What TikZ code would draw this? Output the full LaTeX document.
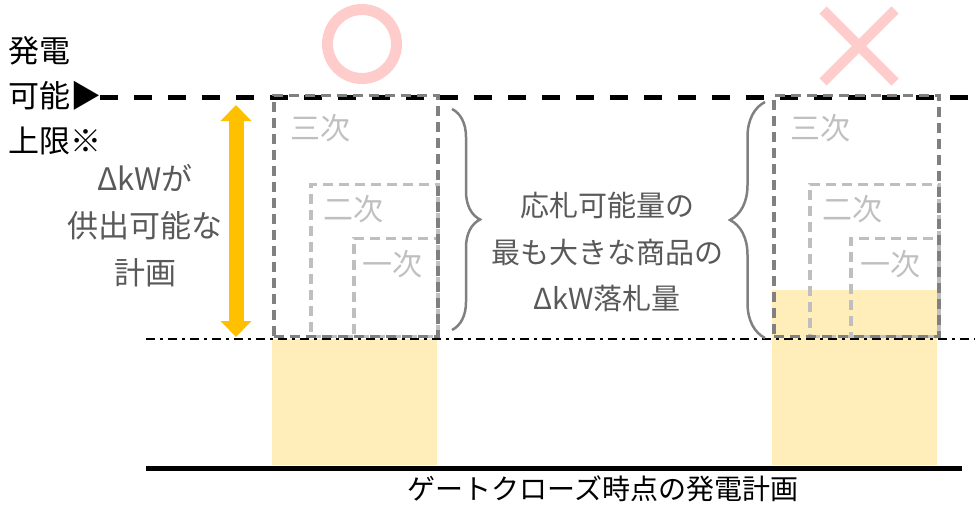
\documentclass[tikz,border=0pt]{standalone}
\usepackage{fontspec}
\setmainfont{Noto Sans CJK JP}
\usepackage{xcolor}
\usetikzlibrary{positioning}
\usetikzlibrary{arrows.meta}
\usetikzlibrary{shapes.misc}
\usetikzlibrary{decorations.pathreplacing}

\definecolor{pinkmark}{HTML}{FFCCCC}
\definecolor{goldarrow}{HTML}{FFC000}
\definecolor{planfill}{HTML}{FFEDBA}
\definecolor{textgray}{HTML}{595959}
\definecolor{boxdark}{HTML}{808080}
\definecolor{boxlight}{HTML}{BFBFBF}

\tikzset{
  tierbox/.style={draw, dash pattern=on 10pt off 6pt, line width=3.5pt, inner sep=0pt, anchor=south west},
  tierlabel/.style={text=boxlight, font=\fontsize{30}{36}\selectfont, inner sep=0pt},
  planbar/.style={fill=planfill, inner sep=0pt, anchor=south west},
  bracket/.style={draw=boxdark, line width=2.5pt, decorate},
}

\begin{document}
\begin{tikzpicture}[x=1pt, y=-1pt]
        \useasboundingbox (0,0) rectangle (975,509);

        % marks
        \node[circle, draw=pinkmark, line width=11pt, minimum size=69pt, inner sep=0pt] (ok_mark) at (362,44) {};
        \node[cross out, draw=pinkmark, line width=10pt, minimum size=62pt, inner sep=0pt] (ng_mark) at (859,46) {};

        % plans at gate closure
        \node[planbar, minimum width=165pt, minimum height=126pt] (plan_left) at (272,465) {};
        \node[planbar, minimum width=165pt, minimum height=175pt] (plan_right) at (772,465) {};

        % lines
        \coordinate (limit_start) at (100,97);
        \coordinate (limit_end) at (975,97);
        \coordinate (plan_start) at (146,339);
        \coordinate (plan_end) at (975,339);
        \coordinate (base_start) at (146,468);
        \coordinate (base_end) at (962,468);
        \draw[line width=5pt, dash pattern=on 18pt off 16pt] (limit_start) -- (limit_end);
        \draw[line width=2.5pt, dash pattern=on 9pt off 5pt on 3pt off 5pt] (plan_start) -- (plan_end);
        \draw[line width=5pt] (base_start) -- (base_end);

        % left boxes
        \node[tierbox, draw=boxlight, minimum width=84pt, minimum height=98pt] (prim_left) at (352,338) {};
        \node[tierbox, draw=boxlight, minimum width=127pt, minimum height=152pt] (sec_left) at (309,338) {};
        \node[tierbox, draw=boxdark, minimum width=164pt, minimum height=241pt] (tert_left) at (272,338) {};
        \node[tierlabel] (prim_left_label) at (392,264) {一次};
        \node[tierlabel] (sec_left_label) at (353,209) {二次};
        \node[tierlabel] (tert_left_label) at (320,128) {三次};

        % right boxes
        \node[tierbox, draw=boxlight, minimum width=88pt, minimum height=98pt] (prim_right) at (849,338) {};
        \node[tierbox, draw=boxlight, minimum width=129pt, minimum height=152pt] (sec_right) at (808,338) {};
        \node[tierbox, draw=boxdark, minimum width=165pt, minimum height=241pt] (tert_right) at (772,338) {};
        \node[tierlabel] (prim_right_label) at (890,264) {一次};
        \node[tierlabel] (sec_right_label) at (852,209) {二次};
        \node[tierlabel] (tert_right_label) at (820,128) {三次};

        % braces
        \coordinate (brace_left_top) at (452,109);
        \coordinate (brace_left_bottom) at (452,330);
        \coordinate (brace_right_top) at (765,102);
        \coordinate (brace_right_bottom) at (765,338);
        \draw[bracket, decoration={brace, amplitude=28pt}] (brace_left_top) -- (brace_left_bottom);
        \draw[bracket, decoration={brace, amplitude=35pt}] (brace_right_bottom) -- (brace_right_top);

        % supply range
        \coordinate (range_top) at (236,105);
        \coordinate (range_bottom) at (236,337);
        \draw[goldarrow, line width=15pt, {Triangle[width=30pt,length=16pt]}-{Triangle[width=30pt,length=16pt]}] (range_top) -- (range_bottom);

        % texts
        \node[align=left, anchor=west, inner sep=0pt, font=\fontsize{31}{45}\selectfont] (gen_limit) at (8,96) {発電\\可能▶\\上限※};
        \node[align=center, inner sep=0pt, text=textgray, font=\fontsize{31}{47}\selectfont] (supply_plan) at (145,226) {ΔkWが\\供出可能な\\計画};
        \node[align=center, inner sep=0pt, text=textgray, font=\fontsize{29}{46.5}\selectfont] (bid_volume) at (607,252) {応札可能量の\\最も大きな商品の\\ΔkW落札量};
        \node[inner sep=0pt, font=\fontsize{28}{34}\selectfont] (gc_plan) at (603,489) {ゲートクローズ時点の発電計画};
    \end{tikzpicture}
\end{document}
